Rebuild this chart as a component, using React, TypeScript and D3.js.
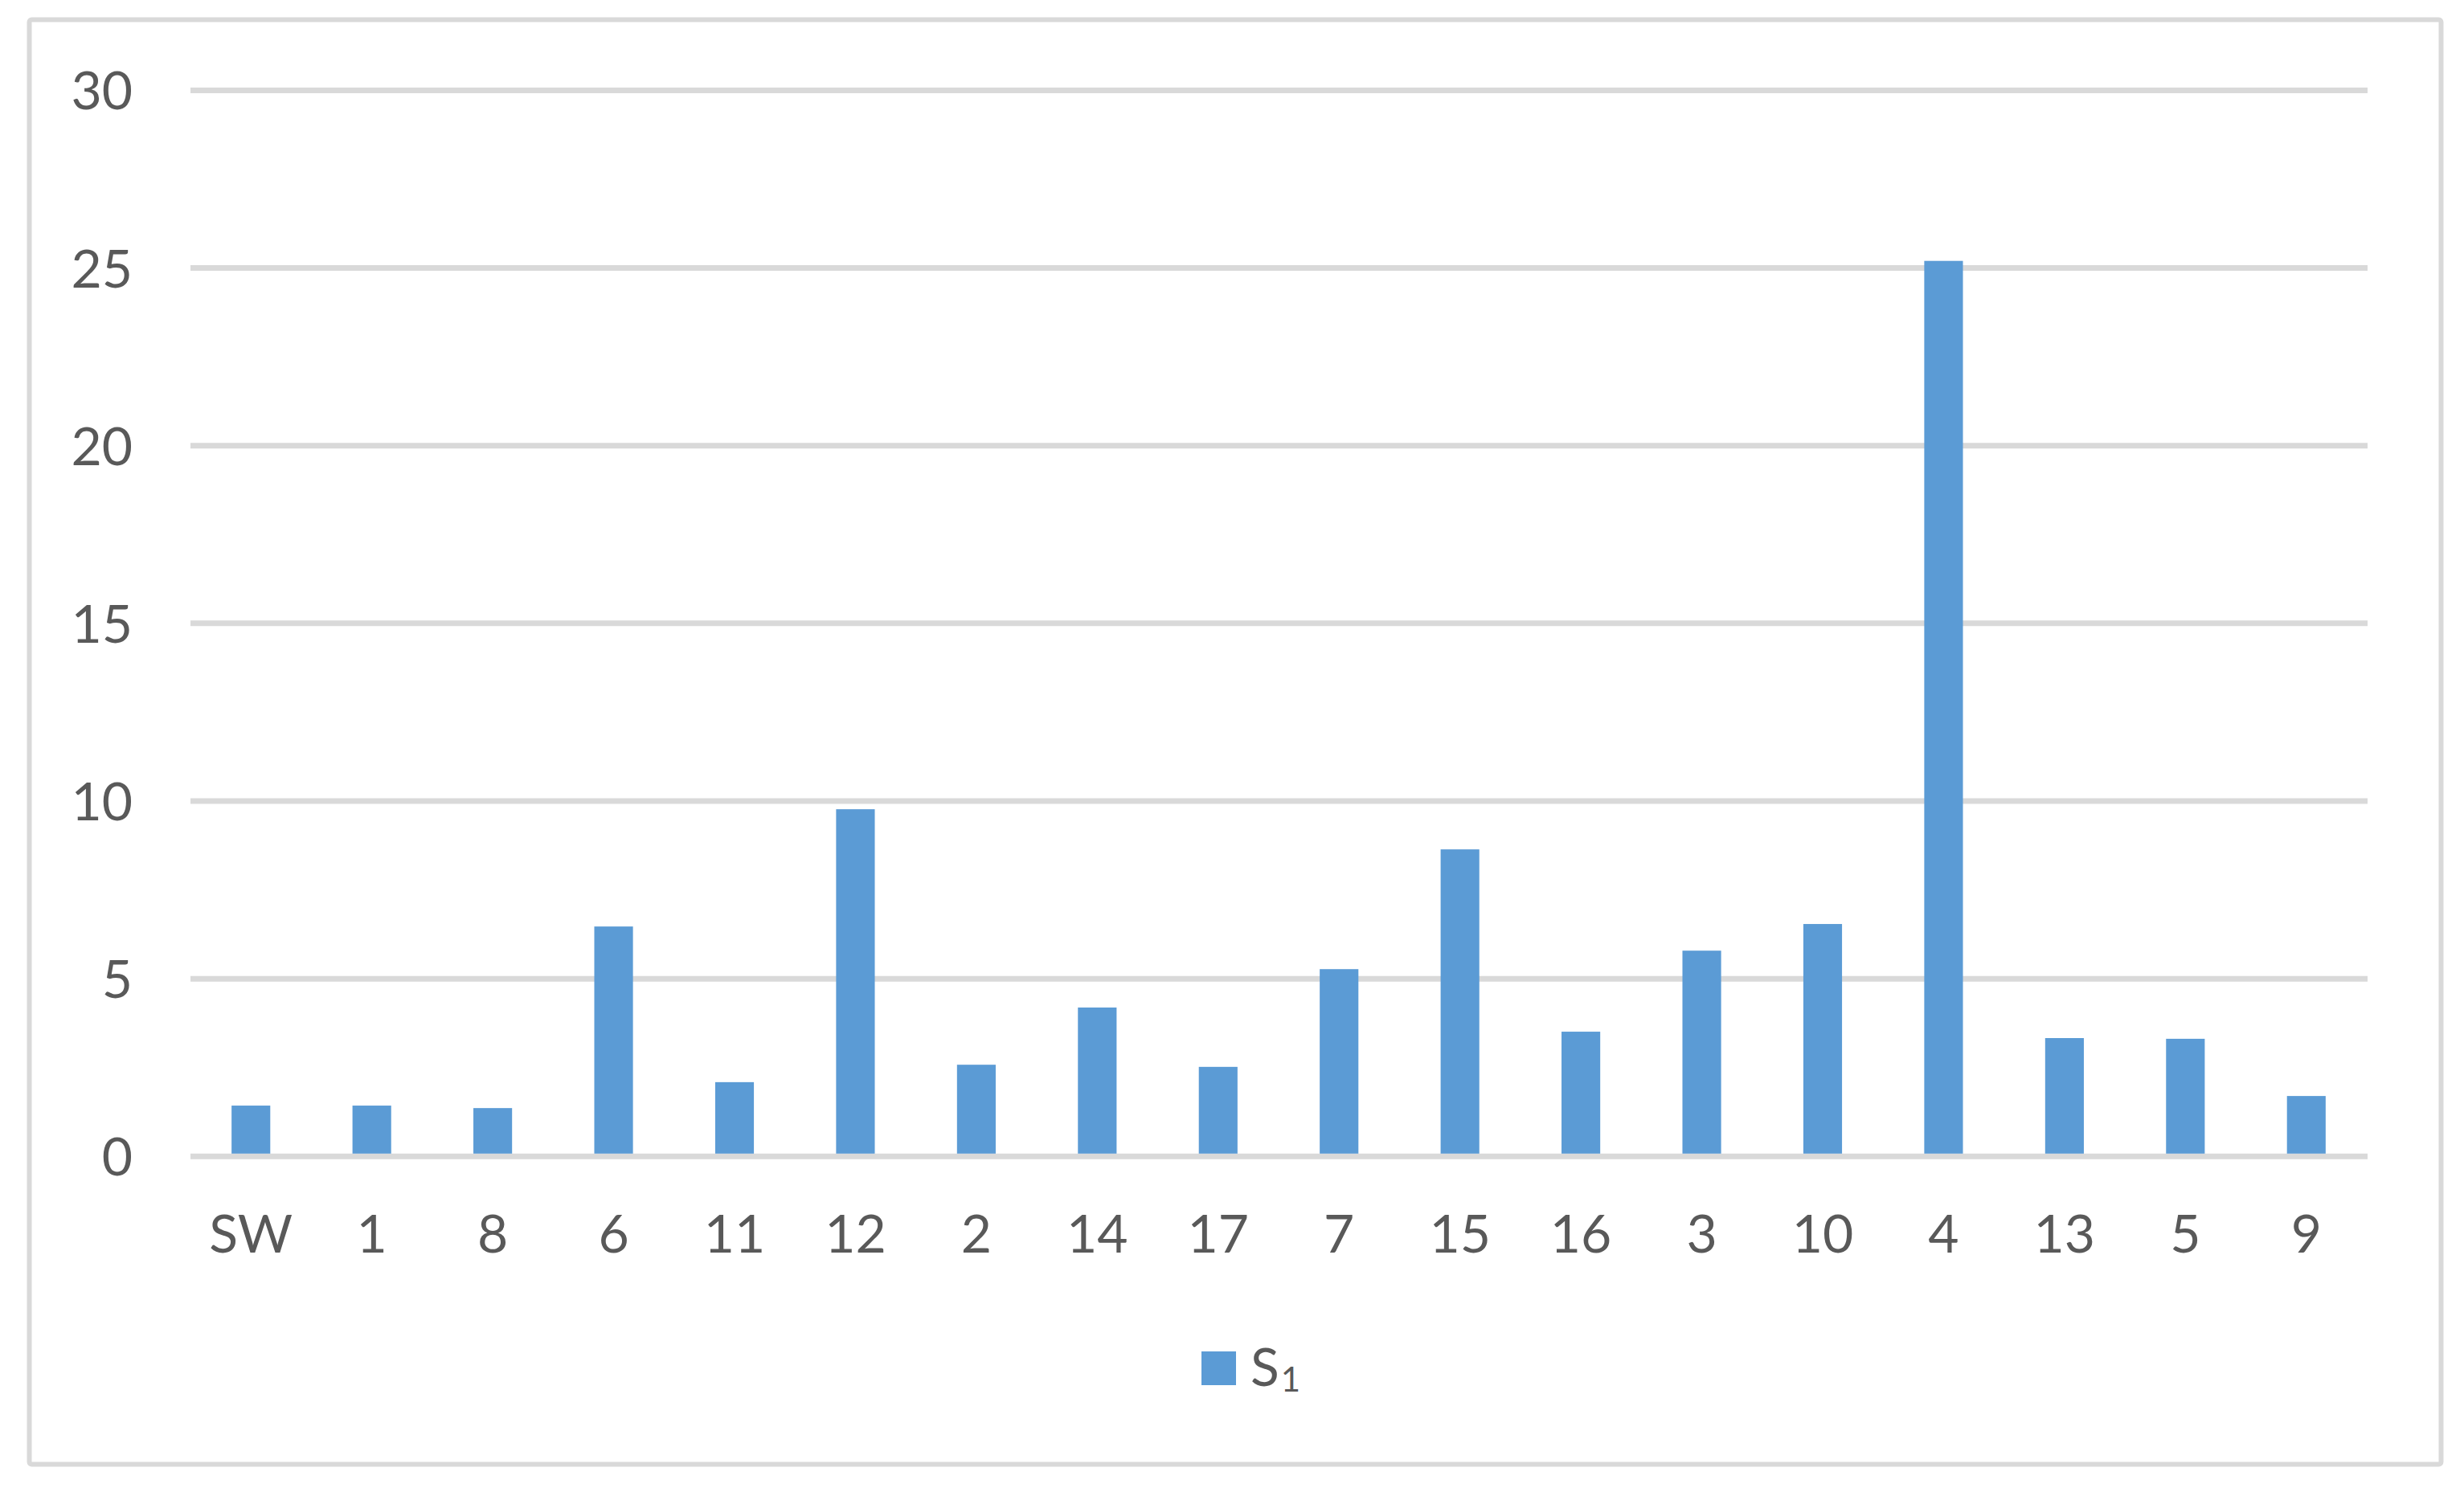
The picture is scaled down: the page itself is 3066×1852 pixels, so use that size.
import React from "react";
import * as d3 from "d3";

const categories = ["SW", "1", "8", "6", "11", "12", "2", "14", "17", "7", "15", "16", "3", "10", "4", "13", "5", "9"];
const values = [1.43, 1.43, 1.36, 6.47, 2.09, 9.77, 2.58, 4.19, 2.52, 5.27, 8.64, 3.51, 5.79, 6.54, 25.2, 3.33, 3.31, 1.7];
const yTicks = [0, 5, 10, 15, 20, 25, 30];
const seriesBase = "S";
const seriesSub = "1";

const W = 3066;
const H = 1852;
const BAR = "#5B9BD5";
const GRID = "#D9D9D9";
const TEXT = "#595959";
const FONT = "Lato, 'Open Sans', sans-serif";
const FS = 66;

export default function App() {
  const x = d3.scaleBand<string>().domain(categories).range([237, 2945]).paddingInner(0.68).paddingOuter(0.34);
  const y = d3.scaleLinear().domain([0, 30]).range([1439.3, 112.4]);

  return (
    <svg width={W} height={H} style={{ position: "absolute", left: 0, top: 0, display: "block", background: "#fff" }}>
      <rect x={0} y={0} width={W} height={H} fill="#fff" />
      <rect x={36.5} y={24.5} width={3001} height={1798} fill="#fff" stroke={GRID} strokeWidth={6} rx={3} />
      {yTicks.map((t) => (
        <g key={t}>
          <line x1={237} x2={2946} y1={y(t)} y2={y(t)} stroke={GRID} strokeWidth={7} />
          <text x={165} y={y(t) + 24} textAnchor="end" fontFamily={FONT} fontSize={FS} fill={TEXT}>
            {t}
          </text>
        </g>
      ))}
      {categories.map((c, i) => (
        <rect key={c} x={x(c)} y={y(values[i])} width={x.bandwidth()} height={y(0) - 3.5 - y(values[i])} fill={BAR} />
      ))}
      {categories.map((c) => (
        <text
          key={"l" + c}
          x={(x(c) as number) + x.bandwidth() / 2}
          y={1559}
          textAnchor="middle"
          fontFamily={FONT}
          fontSize={FS}
          fill={TEXT}
        >
          {c}
        </text>
      ))}
      <rect x={1495} y={1682} width={43} height={42} fill={BAR} />
      <text x={1556} y={1725} fontFamily={FONT} fontSize={FS} fill={TEXT}>
        {seriesBase}
        <tspan fontSize={42} dy={7} dx={2}>
          {seriesSub}
        </tspan>
      </text>
    </svg>
  );
}
